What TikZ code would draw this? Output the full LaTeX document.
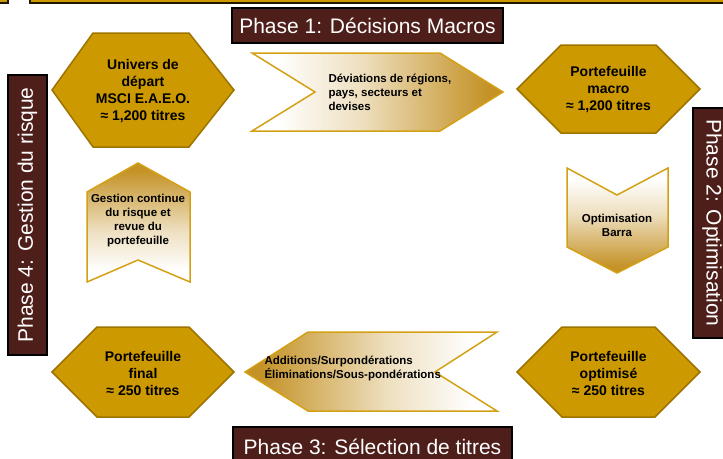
\documentclass[tikz,border=0pt]{standalone}
\usepackage{fontspec}
\setmainfont{Liberation Sans}
\usepackage{tikz}
\usetikzlibrary{positioning}

\definecolor{hexgold}{RGB}{204,153,0}
\definecolor{hexedge}{RGB}{158,116,0}
\definecolor{arrowedge}{RGB}{212,160,20}
\definecolor{fadegold}{RGB}{196,146,38}
\definecolor{phasebrown}{RGB}{78,31,26}
\pgfdeclarehorizontalshading{goldfade}{100bp}{color(0bp)=(white); color(30bp)=(white); color(47bp)=(fadegold!30!white); color(72bp)=(fadegold); color(100bp)=(fadegold)}

\begin{document}
\begin{tikzpicture}[x=1pt,y=-1pt,
    hexa/.style={fill=hexgold,draw=hexedge,line width=1.5pt},
    chevron/.style={shading=goldfade,draw=arrowedge,line width=1.5pt},
    hextext/.style={align=center,font=\fontsize{14}{17}\selectfont\bfseries},
    arrowtext/.style={align=left,font=\fontsize{11.5}{14}\selectfont\bfseries},
    phase/.style={fill=phasebrown,draw=black,line width=1.6pt,text=white,
        inner sep=0pt,font=\fontsize{21}{25}\selectfont}]
    \clip (0,0) rectangle (723,458);
    % cut-off bars at the top
    \draw[fill=hexgold,draw=black!80!hexedge,line width=1.2pt] (-10,-20) rectangle (8,3);
    \draw[fill=hexgold,draw=black!80!hexedge,line width=1.2pt] (30,-20) rectangle (740,3);

    % phase titles
    \node[phase,minimum width=271pt,minimum height=35pt] (phaseone) at (367.5,25.5) {Phase 1: Décisions Macros};
    \node[phase,rotate=-90,minimum width=230pt,minimum height=38pt] (phasetwo) at (712,223) {Phase 2: Optimisation};
    \node[phase,minimum width=279pt,minimum height=40pt] (phasethree) at (372.5,447) {Phase 3: Sélection de titres};
    \node[phase,rotate=90,minimum width=280pt,minimum height=39pt] (phasefour) at (27.5,215) {Phase 4: Gestion du risque};

    % hexagons
    \draw[hexa] (52,90) -- (93,33) -- (189,33) -- (234,90) -- (189,147) -- (93,147) -- cycle;
    \draw[hexa] (517,89) -- (561,45) -- (656,45) -- (700,89) -- (656,133) -- (561,133) -- cycle;
    \draw[hexa] (517,372) -- (562,327) -- (655,327) -- (700,372) -- (655,417) -- (562,417) -- cycle;
    \draw[hexa] (52,372) -- (97,327) -- (189,327) -- (234,372) -- (189,417) -- (97,417) -- cycle;
    \node[hextext] (univers) at (143,91) {Univers de\\départ\\MSCI E.A.E.O.\\≈ 1,200 titres};
    \node[hextext] (macro) at (608.5,90) {Portefeuille\\macro\\≈ 1,200 titres};
    \node[hextext] (optimise) at (608.5,373) {Portefeuille\\optimisé\\≈ 250 titres};
    \node[hextext] (final) at (143,373) {Portefeuille\\final\\≈ 250 titres};

    % chevrons
    \path[chevron] (252,53) -- (440,53) -- (503,92) -- (440,131) -- (252,131) -- (315,92) -- cycle;
    \path[chevron,shading angle=-90] (567,168) -- (617,195) -- (668,168) -- (668,247) -- (617,273) -- (567,247) -- cycle;
    \path[chevron,shading angle=180] (245,372) -- (308,332) -- (497,332) -- (435,372) -- (497,411) -- (308,411) -- cycle;
    \path[chevron,shading angle=90] (138,163) -- (190,192) -- (190,282) -- (138,260) -- (87,282) -- (87,192) -- cycle;
    \node[arrowtext,anchor=west] (deviations) at (325,92) {Déviations de régions,\\pays, secteurs et\\devises};
    \node[arrowtext,align=center] (barra) at (617,225) {Optimisation\\Barra};
    \node[arrowtext,anchor=west] (selection) at (261,368) {Additions/Surpondérations\\Éliminations/Sous-pondérations};
    \node[arrowtext,align=center] (gestion) at (138,221) {Gestion continue\\du risque et\\revue du\\portefeuille};
\end{tikzpicture}
\end{document}
